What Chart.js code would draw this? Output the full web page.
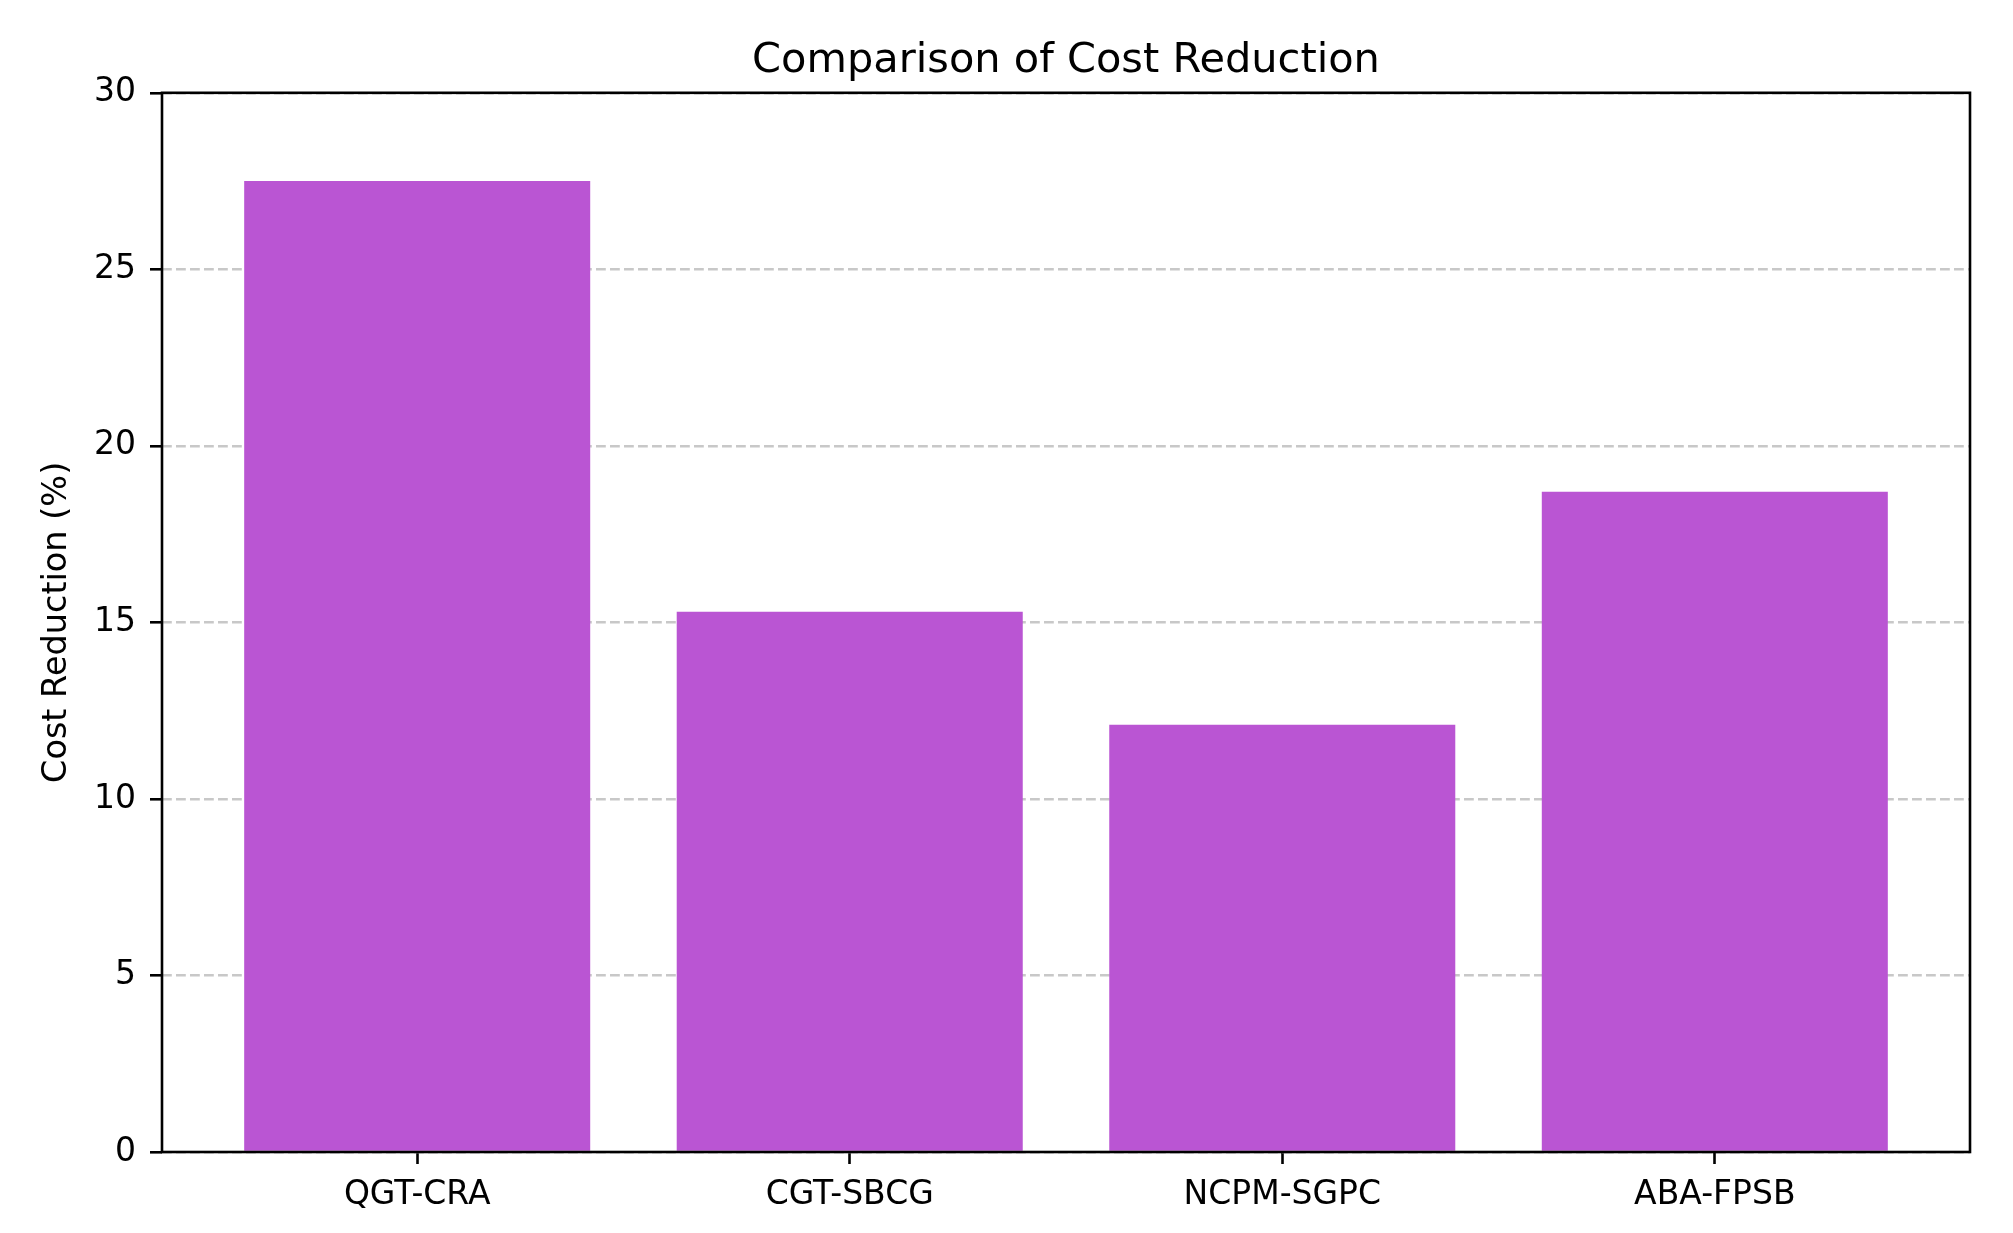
<!DOCTYPE html>
<html><head><meta charset="utf-8">
<script src="https://cdn.jsdelivr.net/npm/chart.js@4.4.0/dist/chart.umd.min.js"></script>
<style>html,body{margin:0;padding:0;background:#fff;overflow:hidden}canvas{display:block}</style>
</head><body>
<canvas id="c" width="2013" height="1233" style="width:2013px;height:1233px"></canvas>
<script>
const categories = ['QGT-CRA', 'CGT-SBCG', 'NCPM-SGPC', 'ABA-FPSB'];
const costReduction = [27.5, 15.3, 12.1, 18.7];
const yTickValues = [0, 5, 10, 15, 20, 25, 30];
const titleText = 'Comparison of Cost Reduction';
const yAxisLabel = 'Cost Reduction (%)';

const FONT = "'DejaVu Sans', 'Liberation Sans', sans-serif";

const framePlugin = {
  id: 'frame',
  afterDraw(chart) {
    const { ctx, chartArea: a } = chart;
    ctx.save();
    ctx.strokeStyle = '#000';
    ctx.lineWidth = 2.6;
    ctx.strokeRect(a.left, a.top, a.right - a.left, a.bottom - a.top);
    ctx.restore();
  }
};

new Chart(document.getElementById('c'), {
  type: 'bar',
  data: {
    datasets: [{
      data: costReduction.map((v, i) => ({ x: i, y: v })),
      backgroundColor: '#BA55D3',
      borderWidth: 0,
      barPercentage: 0.8,
      categoryPercentage: 1.0
    }]
  },
  options: {
    responsive: false,
    animation: false,
    devicePixelRatio: 1,
    layout: { padding: { left: 0, right: 43, top: 0, bottom: 0 } },
    plugins: {
      legend: { display: false },
      tooltip: { enabled: false },
      title: {
        display: true,
        fullSize: false,
        text: titleText,
        color: '#000',
        font: { family: FONT, size: 41.5, weight: 'normal' },
        padding: { top: 36, bottom: 7 }
      }
    },
    scales: {
      x: {
        type: 'linear',
        min: -0.59,
        max: 3.59,
        offset: false,
        afterBuildTicks: s => { s.ticks = categories.map((_, i) => ({ value: i })); },
        afterFit: s => { s.height = 81; },
        ticks: {
          autoSkip: false,
          maxRotation: 0,
          color: '#000',
          padding: 12,
          font: { family: FONT, size: 33 },
          callback: (v, i) => categories[i]
        },
        grid: {
          offset: false,
          drawOnChartArea: false,
          drawTicks: true,
          tickLength: 12,
          tickColor: '#000',
          tickWidth: 2.6
        },
        border: { display: false }
      },
      y: {
        min: 0,
        max: 30,
        z: 1,
        afterBuildTicks: s => { s.ticks = yTickValues.map(v => ({ value: v })); },
        afterFit: s => { s.width = 162; },
        ticks: {
          color: '#000',
          padding: 14,
          font: { family: FONT, size: 33 },
          callback: v => String(v)
        },
        grid: {
          color: 'rgba(176,176,176,0.7)',
          lineWidth: 2.6,
          drawTicks: true,
          tickLength: 12,
          tickColor: '#000',
          tickWidth: 2.6,
          tickBorderDash: []
        },
        border: { display: false, dash: [9.8, 4.2] },
        title: {
          display: true,
          text: yAxisLabel,
          color: '#000',
          font: { family: FONT, size: 33.5 },
          padding: { top: 37, bottom: 0 }
        }
      }
    }
  },
  plugins: [framePlugin]
});
</script>
</body></html>
